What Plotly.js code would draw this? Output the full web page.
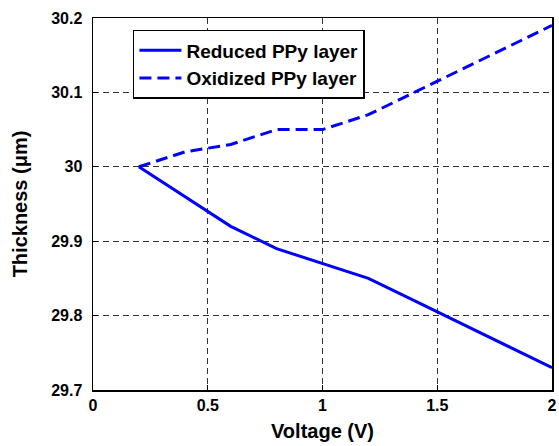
<!DOCTYPE html>
<html>
<head>
<meta charset="utf-8">
<script src="https://cdn.plot.ly/plotly-3.0.1.min.js"></script>
<style>html,body{margin:0;padding:0;background:#fff;}#chart{width:559px;height:446px;}</style>
</head>
<body>
<div id="chart"></div>
<script>
const voltage = [0.2, 0.4, 0.6, 0.8, 1.0, 1.2, 1.4, 1.6, 1.8, 2.0];
const reduced = [30.0, 29.96, 29.92, 29.89, 29.87, 29.85, 29.82, 29.79, 29.76, 29.73];
const oxidized = [30.0, 30.02, 30.03, 30.05, 30.05, 30.07, 30.1, 30.13, 30.16, 30.19];
const seriesNames = ["Reduced PPy layer", "Oxidized PPy layer"];
const xTicks = [0, 0.5, 1, 1.5, 2];
const xTickText = ["0", "0.5", "1", "1.5", "2"];
const yTicks = [29.7, 29.8, 29.9, 30, 30.1, 30.2];
const yTickText = ["29.7", "29.8", "29.9", "30", "30.1", "30.2"];

const FONT = "Liberation Sans, Arial, Helvetica, sans-serif";

const traces = [
  {x: voltage, y: reduced, name: seriesNames[0], mode: "lines",
   line: {color: "#0000ff", width: 3}},
  {x: voltage, y: oxidized, name: seriesNames[1], mode: "lines",
   line: {color: "#0000ff", width: 3, dash: "12px,6px"}}
];

const axisCommon = {
  showline: true, mirror: true, linecolor: "#000", linewidth: 1.5,
  ticks: "inside", ticklen: 5, tickwidth: 1, tickcolor: "#000",
  showgrid: true, gridcolor: "#333", gridwidth: 1, griddash: "6px,4px",
  zeroline: false,
  tickfont: {family: FONT, size: 16, color: "#000", weight: "bold"}
};

const layout = {
  width: 559, height: 446,
  margin: {l: 93, r: 7, t: 18, b: 56},
  paper_bgcolor: "#fff", plot_bgcolor: "#fff",
  showlegend: true,
  legend: {x: 0.087, y: 0.968, xanchor: "left", yanchor: "top",
    bgcolor: "#fff", bordercolor: "#000", borderwidth: 1.5, itemwidth: 42,
    font: {family: FONT, size: 19, color: "#000", weight: "bold"}, tracegroupgap: 0},
  xaxis: Object.assign({}, axisCommon, {
    range: [0, 2], tickvals: xTicks, ticktext: xTickText,
    title: {text: "Voltage (V)", standoff: 11, font: {family: FONT, size: 20, color: "#000", weight: "bold"}}
  }),
  yaxis: Object.assign({}, axisCommon, {
    range: [29.7, 30.2], tickvals: yTicks, ticktext: yTickText,
    ticklabelstandoff: 6,
    title: {text: "Thickness (μm)", standoff: 18, font: {family: FONT, size: 20, color: "#000", weight: "bold"}}
  })
};

Plotly.newPlot("chart", traces, layout, {displayModeBar: false, staticPlot: true});
</script>
</body>
</html>
